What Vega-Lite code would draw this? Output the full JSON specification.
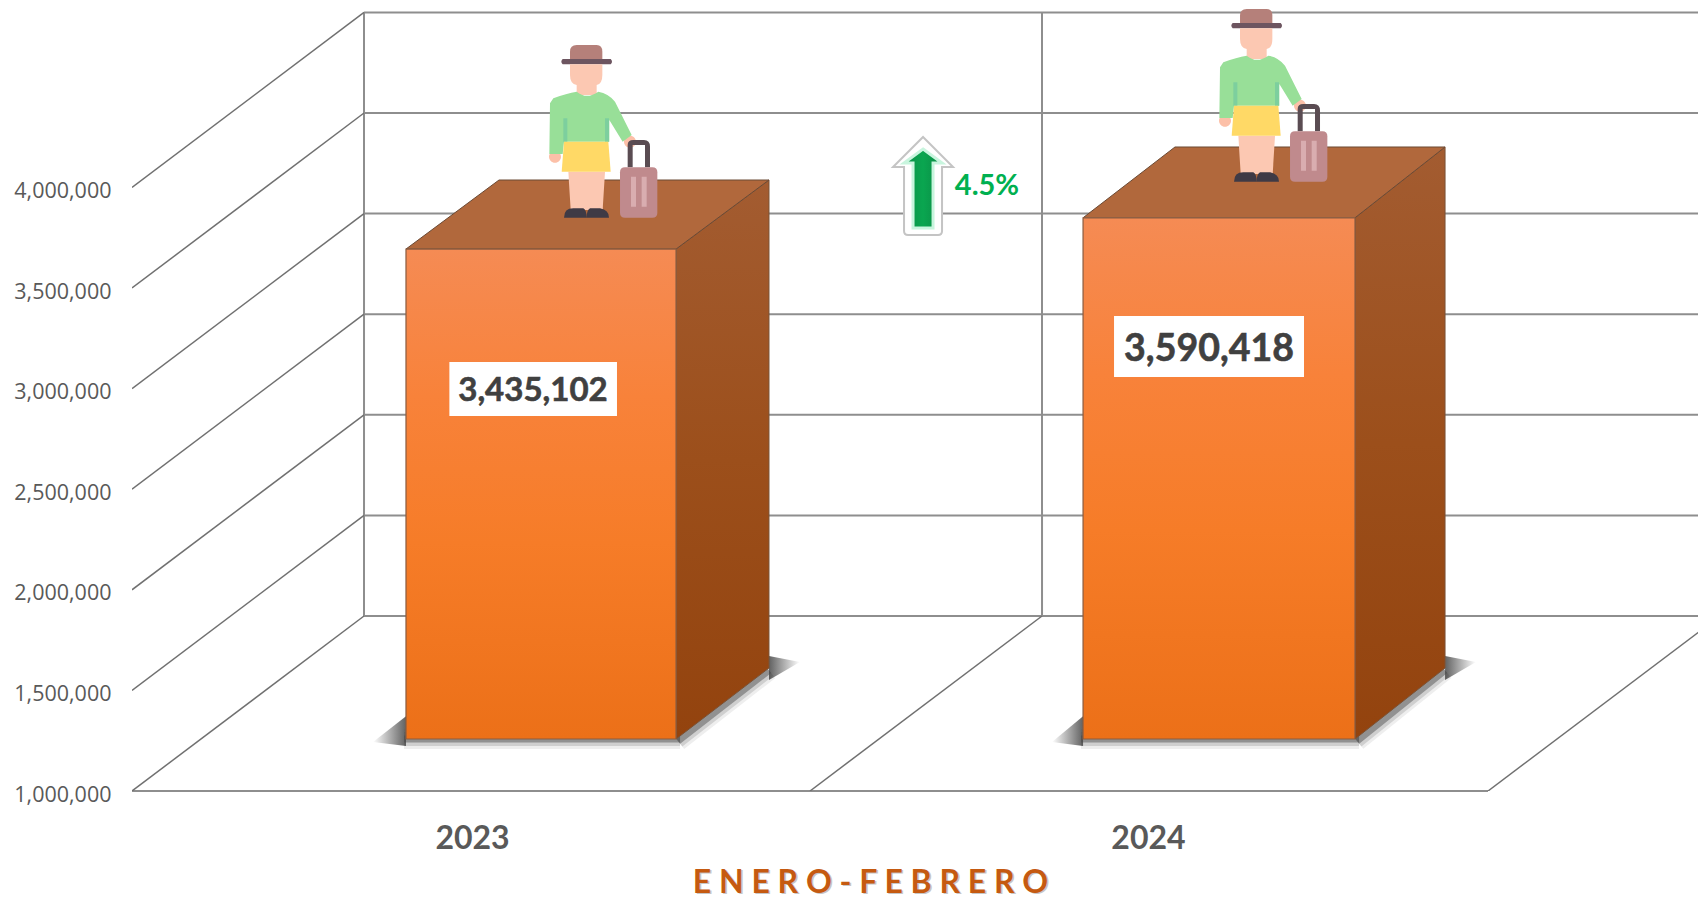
{"$schema":"https://vega.github.io/schema/vega-lite/v6.json","width":1566,"height":791,"autosize":"none","padding":{"left":132,"top":0,"right":0,"bottom":109},"background":"#ffffff","config":{"view":{"stroke":null}},
"encoding":{"x":{"field":"x","type":"quantitative","scale":{"domain":[0,2.3097],"nice":false,"zero":false},"axis":{"values":[0.5015,1.4985],"labelExpr":"datum.value < 1 ? '2023' : '2024'","grid":false,"domain":false,"ticks":false,"labelFont":"Lato","labelFontWeight":"bold","labelFontSize":32,"labelColor":"#595959","labelPadding":32,"labelOverlap":false,"labelFlush":false,"labelBound":false,"title":"E N E R O - F E B R E R O","titleFont":"Lato","titleFontWeight":"bold","titleFontSize":32,"titleColor":"#c55a11","titleX":738,"titleY":91,"titleBaseline":"middle","titleAnchor":"start","titleAlign":"center","zindex":1}},
"y":{"field":"y","type":"quantitative","scale":{"domain":[1000000,4931412],"nice":false,"zero":false},"axis":{"values":[1000000,1500000,2000000,2500000,3000000,3500000,4000000],"format":",d","grid":false,"domain":false,"ticks":false,"labelPadding":21,"labelFont":"Open Sans","labelFontSize":21.5,"labelColor":"#595959","labelOffset":4,"title":null}}},
"layer":[
{"mark":{"type":"line","stroke":"#8e8e8e","strokeWidth":2},"data":{"values":[
{"g":"h1","x":0.3422,"y":1869781},{"g":"h1","x":2.3097,"y":1869781},
{"g":"h2","x":0.3422,"y":2369781},{"g":"h2","x":2.3097,"y":2369781},
{"g":"h3","x":0.3422,"y":2869781},{"g":"h3","x":2.3097,"y":2869781},
{"g":"h4","x":0.3422,"y":3369781},{"g":"h4","x":2.3097,"y":3369781},
{"g":"h5","x":0.3422,"y":3869781},{"g":"h5","x":2.3097,"y":3869781},
{"g":"h6","x":0.3422,"y":4369781},{"g":"h6","x":2.3097,"y":4369781},
{"g":"h7","x":0.3422,"y":4869781},{"g":"h7","x":2.3097,"y":4869781},
{"g":"v1","x":0.3422,"y":1869781},{"g":"v1","x":0.34221,"y":4869781},
{"g":"v2","x":1.3422,"y":1869781},{"g":"v2","x":1.34221,"y":4869781},
{"g":"front","x":0,"y":1000000},{"g":"front","x":2,"y":1000000}]},"encoding":{"detail":{"field":"g"}}},
{"mark":{"type":"line","stroke":"#707070","strokeWidth":1.5,"clip":true},"data":{"values":[
{"g":"a","x":0,"y":1000000},{"g":"a","x":0.3422,"y":1869781},
{"g":"b","x":0,"y":1500000},{"g":"b","x":0.3422,"y":2369781},
{"g":"c","x":0,"y":2000000},{"g":"c","x":0.3422,"y":2869781},
{"g":"d","x":0,"y":2500000},{"g":"d","x":0.3422,"y":3369781},
{"g":"e","x":0,"y":3000000},{"g":"e","x":0.3422,"y":3869781},
{"g":"f","x":0,"y":3500000},{"g":"f","x":0.3422,"y":4369781},
{"g":"g","x":0,"y":4000000},{"g":"g","x":0.3422,"y":4869781},
{"g":"m","x":1,"y":1000000},{"g":"m","x":1.3422,"y":1869781},
{"g":"n","x":2,"y":1000000},{"g":"n","x":2.3422,"y":1869781}]},"encoding":{"detail":{"field":"g"}}},
{"data":{"name":"shadowLines"},"mark":{"type":"line","stroke":"#555555","strokeWidth":20,"opacity":0.1},"encoding":{"detail":{"field":"g"}}},
{"data":{"name":"shadowLines"},"mark":{"type":"line","stroke":"#555555","strokeWidth":14,"opacity":0.2},"encoding":{"detail":{"field":"g"}}},
{"data":{"name":"shadowLines"},"mark":{"type":"line","stroke":"#444444","strokeWidth":7,"opacity":0.45},"encoding":{"detail":{"field":"g"}}},
{"mark":{"type":"area","orient":"vertical","fill":{"gradient":"linear","x1":0,"y1":0,"x2":1,"y2":0,"stops":[{"offset":0,"color":"rgba(70,70,70,0)"},{"offset":1,"color":"rgba(70,70,70,0.85)"}]}},"data":{"values":[
{"g":"a","x":0.3555,"y":1243539,"y2":1243539},{"g":"a","x":0.4041,"y":1372000,"y2":1223659},
{"g":"b","x":1.3569,"y":1243539,"y2":1243539},{"g":"b","x":1.4027,"y":1372000,"y2":1223659}]},"encoding":{"y2":{"field":"y2"},"detail":{"field":"g"}}},
{"mark":{"type":"area","orient":"vertical","fill":{"gradient":"linear","x1":0,"y1":0,"x2":1,"y2":0,"stops":[{"offset":0,"color":"rgba(70,70,70,0.85)"},{"offset":1,"color":"rgba(70,70,70,0)"}]}},"data":{"values":[
{"g":"a","x":0.9395,"y":1670975,"y2":1551690},{"g":"a","x":0.9852,"y":1641153,"y2":1641153},
{"g":"b","x":1.9366,"y":1670975,"y2":1551690},{"g":"b","x":1.9823,"y":1641153,"y2":1641153}]},"encoding":{"y2":{"field":"y2"},"detail":{"field":"g"}}},
{"mark":{"type":"area","orient":"vertical","stroke":"#7a5236","strokeWidth":1,"fill":{"gradient":"linear","x1":0,"y1":0,"x2":0,"y2":1,"stops":[{"offset":0,"color":"#a35c31"},{"offset":0.5,"color":"#9c4f1b"},{"offset":1,"color":"#93430e"}]}},"data":{"values":[
{"year":"2023","x":0.8024,"y":3693552,"y2":1258450},{"year":"2023","x":0.9395,"y":4036780,"y2":1611300},
{"year":"2024","x":1.8038,"y":3848868,"y2":1258450},{"year":"2024","x":1.9366,"y":4200800,"y2":1611300}]},"encoding":{"y2":{"field":"y2"},"detail":{"field":"year"}}},
{"mark":{"type":"area","orient":"horizontal","stroke":"#6b4a35","strokeWidth":1,"fill":"#b1683c"},"data":{"values":[
{"year":"2023","y":3693552,"x":0.4041,"x2":0.8024},{"year":"2023","y":4036780,"x":0.5413,"x2":0.9395},
{"year":"2024","y":3848868,"x":1.4027,"x2":1.8038},{"year":"2024","y":4200800,"x":1.5383,"x2":1.9366}]},"encoding":{"x2":{"field":"x2"},"detail":{"field":"year"}}},
{"mark":{"type":"rect","stroke":"#8a5c40","strokeWidth":1.2,"fill":{"gradient":"linear","x1":0,"y1":0,"x2":0,"y2":1,"stops":[{"offset":0,"color":"#f58b54"},{"offset":0.3,"color":"#f8823a"},{"offset":0.6,"color":"#f67c28"},{"offset":1,"color":"#ec7018"}]}},"data":{"values":[
{"year":"2023","x":0.4041,"x2":0.8024,"y":3693552,"y2":1258450},
{"year":"2024","x":1.4027,"x2":1.8038,"y":3848868,"y2":1258450}]},"encoding":{"x2":{"field":"x2"},"y2":{"field":"y2"}}},
{"mark":{"type":"rect","fill":"#ffffff"},"data":{"values":[
{"year":"2023","x":0.4681,"x2":0.7153,"y":3132207,"y2":2863818},
{"year":"2024","x":1.4484,"x2":1.7286,"y":3360836,"y2":3057654}]},"encoding":{"x2":{"field":"x2"},"y2":{"field":"y2"}}},
{"mark":{"type":"text","font":"Lato","fontWeight":"bold","fontSize":33,"color":"#404040","stroke":"#404040","strokeWidth":0.6,"align":"center","baseline":"middle","dy":2},"data":{"values":[{"year":"2023","x":0.5914,"y":2998012,"value":3435102}]},"encoding":{"text":{"field":"value","type":"quantitative","format":","}}},
{"mark":{"type":"text","font":"Lato","fontWeight":"bold","fontSize":37.5,"color":"#404040","stroke":"#404040","strokeWidth":0.6,"align":"center","baseline":"middle","dy":3},"data":{"values":[{"year":"2024","x":1.5885,"y":3206760,"value":3590418}]},"encoding":{"text":{"field":"value","type":"quantitative","format":","}}},
{"mark":{"type":"text","font":"Lato","fontWeight":"bold","fontSize":29,"color":"#00b050","align":"center","baseline":"middle","dy":1},"data":{"values":[{"x":1.261,"y":4011929,"label":"4.5%"}]},"encoding":{"text":{"field":"label"}}},
{"mark":{"type":"text","font":"Lato","fontWeight":"bold","fontSize":32,"color":"#9a9a9a","opacity":0.55,"align":"center","baseline":"middle","dx":2,"dy":2},"data":{"values":[{"x":1.0884,"y":547700,"label":"E N E R O - F E B R E R O"}]},"encoding":{"text":{"field":"label"}}},
{"mark":{"type":"point","filled":true,"opacity":1,"size":4,"stroke":"#c4c4c4","strokeWidth":2,"fill":"#ffffff","shape":"M0,-49 L30,-19 L19,-19 L19,45 Q19,49 15,49 L-15,49 Q-19,49 -19,45 L-19,-19 L-30,-19 Z"},"data":{"values":[{"x":1.1667,"y":4006959,"label":"up"}]}},
{"mark":{"type":"point","filled":true,"opacity":1,"size":4,"stroke":"#c8f5de","strokeWidth":3,"fill":{"gradient":"linear","x1":0,"y1":0,"x2":1,"y2":0,"stops":[{"offset":0,"color":"#0a8f48"},{"offset":0.5,"color":"#0aa650"},{"offset":1,"color":"#0b8a45"}]},"shape":"M0,-37 L19,-23 L10,-23 L10,42 L-10,42 L-10,-23 L-19,-23 Z"},"data":{"values":[{"x":1.1667,"y":4006959,"label":"up"}]}},
{"mark":{"type":"point","filled":true,"opacity":1,"size":0.4444},"data":{"name":"people"},"encoding":{"shape":{"field":"part","type":"nominal","legend":null,"scale":{"domain":["crown","brim","head","shirt","crease","shorts","legs","shoes","hands","handle","case","stripes"],"range":[
"M-50,-200 L-50,-235 Q-50,-255 -30,-255 L30,-255 Q47,-255 47,-235 L47,-200 Z",
"M-72,-213 L72,-213 Q80,-205 72,-197 L-72,-197 Q-80,-205 -72,-213 Z",
"M-50,-197 L47,-197 L47,-165 Q47,-138 30,-135 L30,-105 L-30,-105 L-30,-135 Q-50,-138 -50,-165 Z",
"M-100,-95 Q-60,-110 -30,-115 Q0,-90 35,-115 Q65,-110 85,-85 L135,15 L108,35 L68,-30 L68,35 L-68,35 L-72,72 L-112,72 L-110,-80 Z",
"M-70,-35 L-58,-35 L-58,35 L-70,35 Z M55,-35 L67,-35 L67,35 L55,35 Z",
"M-68,35 L65,35 L72,125 L-75,125 Z",
"M-55,125 L55,125 L48,240 L-48,240 Z",
"M-68,263 Q-68,235 -40,235 L-10,235 Q0,240 0,263 Z M0,263 Q0,240 10,235 L40,235 Q67,240 67,263 Z",
"M-113,80 a18,18 0 1,0 36,0 a18,18 0 1,0 -36,0 Z M112,35 a18,18 0 1,0 36,0 a18,18 0 1,0 -36,0 Z",
"M123,112 L123,45 Q123,30 140,30 L172,30 Q190,30 190,50 L190,112 L175,112 L175,45 L138,45 L138,112 Z",
"M115,112 L197,112 Q212,112 212,127 L212,248 Q212,263 197,263 L115,263 Q100,263 100,248 L100,127 Q100,112 115,112 Z",
"M133,140 L148,140 L148,230 L133,230 Z M165,140 L180,140 L180,230 L165,230 Z"]}},
"color":{"field":"part","type":"nominal","legend":null,"scale":{"domain":["crown","brim","head","shirt","crease","shorts","legs","shoes","hands","handle","case","stripes"],"range":["#b5807a","#6d5560","#fcc8b2","#98df98","#7dcf9e","#ffd966","#fcc8b2","#3f3a45","#fcc0a8","#5a4c52","#c08a8d","#d9adb0"]}}}}
],
"datasets":{
"shadowLines":[
{"g":"a1","x":0.4012,"y":1258450},{"g":"a1","x":0.8083,"y":1258450},
{"g":"a2","x":0.8053,"y":1248509},{"g":"a2","x":0.9395,"y":1600000},
{"g":"b1","x":1.3997,"y":1258450},{"g":"b1","x":1.8098,"y":1258450},
{"g":"b2","x":1.8068,"y":1248509},{"g":"b2","x":1.9366,"y":1600000}],
"people":[
{"x":0.6706,"y":4285289,"part":"crown"},{"x":0.6706,"y":4285289,"part":"brim"},{"x":0.6706,"y":4285289,"part":"head"},{"x":0.6706,"y":4285289,"part":"hands"},{"x":0.6706,"y":4285289,"part":"shirt"},{"x":0.6706,"y":4285289,"part":"crease"},{"x":0.6706,"y":4285289,"part":"legs"},{"x":0.6706,"y":4285289,"part":"shorts"},{"x":0.6706,"y":4285289,"part":"shoes"},{"x":0.6706,"y":4285289,"part":"handle"},{"x":0.6706,"y":4285289,"part":"case"},{"x":0.6706,"y":4285289,"part":"stripes"},
{"x":1.6588,"y":4464215,"part":"crown"},{"x":1.6588,"y":4464215,"part":"brim"},{"x":1.6588,"y":4464215,"part":"head"},{"x":1.6588,"y":4464215,"part":"hands"},{"x":1.6588,"y":4464215,"part":"shirt"},{"x":1.6588,"y":4464215,"part":"crease"},{"x":1.6588,"y":4464215,"part":"legs"},{"x":1.6588,"y":4464215,"part":"shorts"},{"x":1.6588,"y":4464215,"part":"shoes"},{"x":1.6588,"y":4464215,"part":"handle"},{"x":1.6588,"y":4464215,"part":"case"},{"x":1.6588,"y":4464215,"part":"stripes"}]}
}
